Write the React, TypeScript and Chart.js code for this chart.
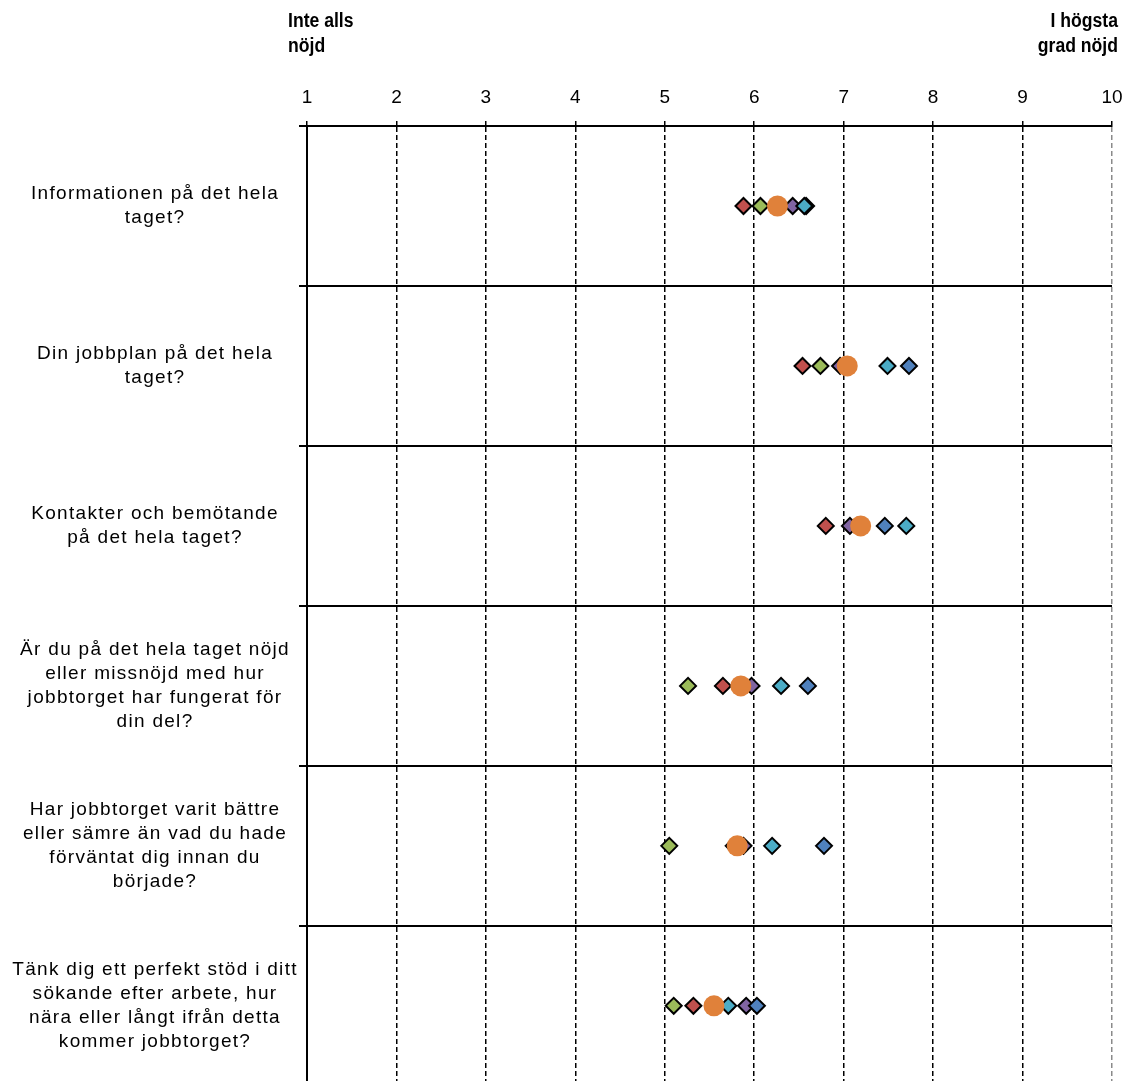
import React, { useEffect, useRef } from "react";
import { Chart, registerables } from "chart.js";

Chart.register(...registerables);

// ---- data ----
const categories: string[] = [
  "Informationen på det hela\ntaget?",
  "Din jobbplan på det hela\ntaget?",
  "Kontakter och bemötande\npå det hela taget?",
  "Är du på det hela taget nöjd\neller missnöjd med hur\njobbtorget har fungerat för\ndin del?",
  "Har jobbtorget varit bättre\neller sämre än vad du hade\nförväntat dig innan du\nbörjade?",
  "Tänk dig ett perfekt stöd i ditt\nsökande efter arbete, hur\nnära eller långt ifrån detta\nkommer jobbtorget?",
];

const xTickValues: number[] = [1, 2, 3, 4, 5, 6, 7, 8, 9, 10];
const leftTitle: string[] = ["Inte alls", "nöjd"];
const rightTitle: string[] = ["I högsta", "grad nöjd"];

const seriesRed: number[] = [5.88, 6.54, 6.8, 5.65, 5.77, 5.32];
const seriesGreen: number[] = [6.07, 6.74, 7.15, 5.26, 5.05, 5.1];
const seriesPurple: number[] = [6.43, 6.96, 7.07, 5.97, 5.88, 5.91];
const seriesBlue: number[] = [6.58, 7.73, 7.46, 6.6, 6.78, 6.03];
const seriesCyan: number[] = [6.56, 7.49, 7.7, 6.3, 6.2, 5.71];
const seriesTotal: number[] = [6.26, 7.04, 7.19, 5.85, 5.81, 5.55];

const FONT = '"Liberation Sans", Arial, sans-serif';

const toPoints = (vals: number[]) => vals.map((v, i) => ({ x: v, y: i + 0.5 }));

const diamond = (label: string, vals: number[], color: string) => ({
  label,
  data: toPoints(vals),
  pointStyle: "rectRot",
  pointRadius: 8,
  pointHoverRadius: 8,
  backgroundColor: color,
  borderColor: "#000000",
  borderWidth: 2,
  showLine: false,
});

const sideTitles = {
  id: "sideTitles",
  beforeDraw(chart: any) {
    const ys = chart.scales.y;
    if (ys && !ys._lsPatched) {
      const orig = ys.drawLabels.bind(ys);
      ys.drawLabels = (area: any) => {
        const ctx = ys.ctx;
        ctx.save();
        ctx.letterSpacing = "1.3px";
        orig(area);
        ctx.restore();
      };
      ys._lsPatched = true;
    }
  },
  afterDraw(chart: any) {
    const ctx = chart.ctx;
    const xs = chart.scales.x;
    ctx.save();
    ctx.fillStyle = "#000";
    ctx.font = `bold 20px ${FONT}`;
    ctx.textBaseline = "middle";
    const lx = xs.getPixelForValue(xTickValues[0]) - 19;
    const rx = xs.getPixelForValue(xTickValues[xTickValues.length - 1]) + 6;
    leftTitle.forEach((t, i) => {
      ctx.save();
      ctx.translate(lx, 21 + i * 25);
      ctx.scale(0.88, 1);
      ctx.textAlign = "left";
      ctx.fillText(t, 0, 0);
      ctx.restore();
    });
    rightTitle.forEach((t, i) => {
      ctx.save();
      ctx.translate(rx, 21 + i * 25);
      ctx.scale(0.88, 1);
      ctx.textAlign = "right";
      ctx.fillText(t, 0, 0);
      ctx.restore();
    });
    ctx.restore();
  },
};

export default function App() {
  const ref = useRef<HTMLCanvasElement | null>(null);

  useEffect(() => {
    document.body.style.margin = "0";
    document.documentElement.style.overflow = "hidden";
    if (!ref.current) return;
    const rowTicks: number[] = [];
    for (let i = 0; i < categories.length; i++) {
      rowTicks.push(i, i + 0.5);
    }
    const chart = new Chart(ref.current, {
      type: "scatter",
      data: {
        datasets: [
          {
            label: "Totalt",
            data: toPoints(seriesTotal),
            pointStyle: "circle",
            pointRadius: 10.5,
            pointHoverRadius: 10.5,
            backgroundColor: "#E0813A",
            borderColor: "#E0813A",
            borderWidth: 0,
            showLine: false,
          },
          diamond("Grupp E", seriesCyan, "#4BACC6"),
          diamond("Grupp D", seriesBlue, "#4F81BD"),
          diamond("Grupp C", seriesPurple, "#8064A2"),
          diamond("Grupp B", seriesGreen, "#9BBB59"),
          diamond("Grupp A", seriesRed, "#C0504D"),
        ] as any,
      },
      options: {
        animation: false,
        responsive: false,
        layout: { autoPadding: false, padding: { left: 0, right: 18, top: 0, bottom: 0 } },
        plugins: { legend: { display: false }, tooltip: { enabled: false } },
        scales: {
          x: {
            type: "linear",
            position: "top",
            min: xTickValues[0],
            max: xTickValues[xTickValues.length - 1],
            afterBuildTicks: (s: any) => {
              s.ticks = xTickValues.map((v) => ({ value: v }));
            },
            afterFit: (s: any) => {
              s.height = 126;
              s.paddingLeft = 0;
              s.paddingRight = 0;
            },
            ticks: {
              color: "#000",
              font: { family: FONT, size: 19, lineHeight: 1.2 },
              padding: 12,
              autoSkip: false,
              maxRotation: 0,
              callback: (v: any) => String(v),
            },
            grid: {
              color: (c: any) =>
                c.tick && c.tick.value === xTickValues[xTickValues.length - 1] ? "#8a8a8a" : "#000",
              lineWidth: 1.5,
              tickLength: 5,
              tickColor: "#000",
              tickWidth: 1.5,
            },
            border: { display: true, color: "#000", width: 2, dash: [5, 3] },
          },
          y: {
            type: "linear",
            reverse: true,
            min: 0,
            max: 5.97,
            afterBuildTicks: (s: any) => {
              s.ticks = rowTicks.map((v) => ({ value: v }));
            },
            afterFit: (s: any) => {
              s.width = 307;
              s.paddingTop = 0;
              s.paddingBottom = 0;
            },
            ticks: {
              autoSkip: false,
              crossAlign: "center",
              padding: 22,
              color: "#000",
              font: { family: FONT, size: 19, lineHeight: 1.263 },
              callback: (v: any) => {
                const n = Number(v);
                if (n % 1 === 0) return "";
                return categories[Math.floor(n)].split("\n");
              },
            },
            grid: {
              color: (c: any) => (c.tick && c.tick.value % 1 === 0 ? "#000" : "rgba(0,0,0,0)"),
              lineWidth: 2,
              tickLength: 8,
            },
            border: { display: true, color: "#000", width: 2 },
          },
        },
      } as any,
      plugins: [sideTitles],
    });
    return () => chart.destroy();
  }, []);

  return (
    <div style={{ width: 1130, height: 1081, overflow: "hidden" }}>
      <canvas ref={ref} width={1130} height={1081} style={{ display: "block", width: 1130, height: 1081 }} />
    </div>
  );
}
